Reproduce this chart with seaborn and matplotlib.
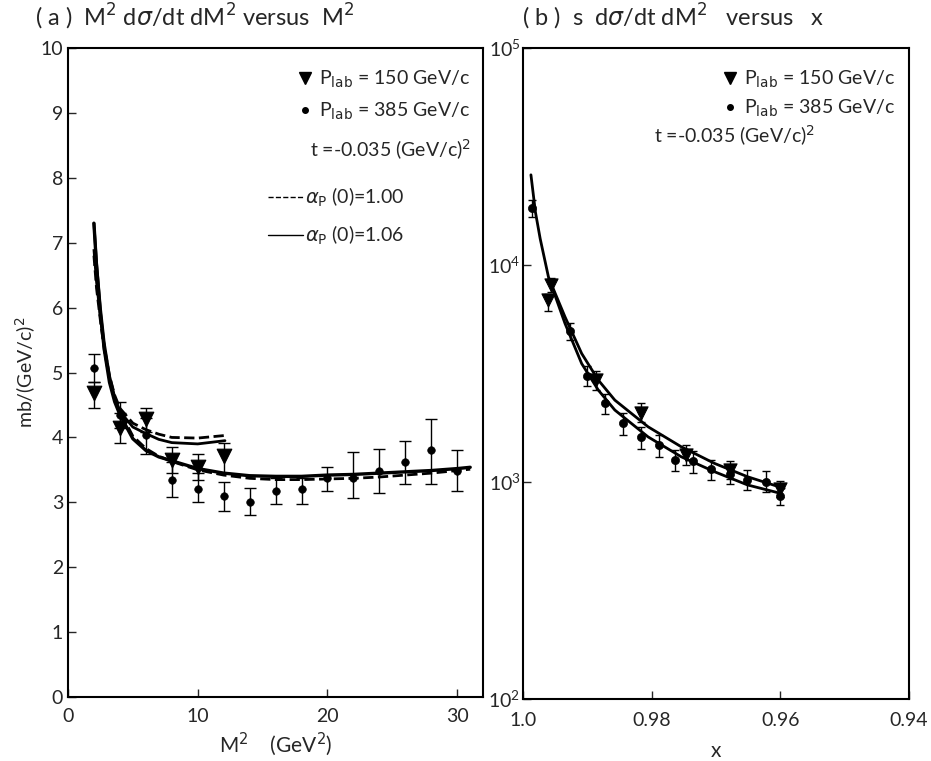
import numpy as np
import pandas as pd
import seaborn as sns
import matplotlib.pyplot as plt
from matplotlib.lines import Line2D

# data
# (a) M^2 dsigma/dt dM^2 vs M^2
m2_150 = [2, 4, 6, 8, 10, 12]
y_150 = [4.68, 4.14, 4.29, 3.65, 3.54, 3.72]
lo_150 = [4.46, 3.92, 4.08, 3.45, 3.35, 3.45]
hi_150 = [4.85, 4.37, 4.46, 3.85, 3.74, 3.92]

m2_385 = [2, 4, 6, 8, 10, 12, 14, 16, 18, 20, 22, 24, 26, 28, 30]
y_385 = [5.07, 4.35, 4.03, 3.35, 3.20, 3.09, 3.01, 3.18, 3.20, 3.37, 3.37, 3.49, 3.62, 3.81, 3.49]
lo_385 = [4.86, 4.15, 3.75, 3.08, 3.00, 2.86, 2.81, 2.97, 2.97, 3.17, 3.06, 3.15, 3.28, 3.28, 3.18]
hi_385 = [5.28, 4.55, 4.30, 3.62, 3.45, 3.32, 3.22, 3.37, 3.37, 3.55, 3.78, 3.82, 3.94, 4.28, 3.80]

# model curves, alpha_P(0)=1.00 (dashed) and 1.06 (solid)
cm2_150 = [2.0, 2.2, 2.5, 2.8, 3.2, 3.6, 4, 5, 6, 7, 8, 10, 12.1]
c150_100 = [6.90, 6.40, 5.85, 5.40, 4.95, 4.65, 4.45, 4.22, 4.12, 4.05, 4.00, 3.99, 4.03]
c150_106 = [7.30, 6.70, 6.00, 5.45, 4.95, 4.62, 4.40, 4.16, 4.06, 3.97, 3.92, 3.90, 3.95]
cm2_385 = [2.0, 2.2, 2.5, 2.8, 3.2, 3.6, 4, 5, 6, 7, 8, 10, 12, 14, 16, 18, 20, 22, 24, 26, 28, 30, 31]
c385_100 = [6.80, 6.30, 5.80, 5.35, 4.90, 4.60, 4.40, 4.02, 3.83, 3.71, 3.63, 3.50, 3.42, 3.37, 3.35, 3.35,
            3.36, 3.37, 3.39, 3.42, 3.45, 3.49, 3.51]
c385_106 = [7.30, 6.65, 5.90, 5.35, 4.85, 4.55, 4.35, 3.98, 3.80, 3.70, 3.64, 3.52, 3.45, 3.41, 3.40, 3.40,
            3.42, 3.43, 3.45, 3.47, 3.49, 3.52, 3.54]

# (b) s dsigma/dt dM^2 vs x
x_150 = [0.9961, 0.9957, 0.9887, 0.9817, 0.9746, 0.9678, 0.9600]
s_150 = [6900, 8100, 2950, 2080, 1330, 1130, 930]
slo_150 = [6100, 7500, 2650, 1880, 1200, 1030, 850]
shi_150 = [7300, 8700, 3250, 2300, 1470, 1240, 1010]

x_385 = [0.9986, 0.9927, 0.9901, 0.9873, 0.9845, 0.9817, 0.9789, 0.9764, 0.9736, 0.9707, 0.9678,
         0.9651, 0.9622, 0.9600]
s_385 = [18300, 4960, 3080, 2310, 1870, 1600, 1470, 1260, 1250, 1140, 1090, 1020, 1000, 860]
slo_385 = [16600, 4500, 2750, 2050, 1650, 1420, 1300, 1120, 1100, 1020, 980, 920, 900, 780]
shi_385 = [20000, 5400, 3400, 2550, 2080, 1780, 1640, 1400, 1390, 1260, 1200, 1130, 1120, 950]

cx_385 = [0.9988, 0.9981, 0.99736, 0.99608, 0.99349, 0.9909, 0.98832, 0.98574, 0.98057, 0.9754, 0.97023,
          0.96507, 0.95989]
cs_385 = [26000, 17500, 13200, 8810, 5360, 3505, 2647, 2140, 1610, 1303, 1112, 966, 883]
cx_150 = [0.99555, 0.99349, 0.9909, 0.98832, 0.98574, 0.98057, 0.9754, 0.97023, 0.96507, 0.95938]
cs_150 = [8050, 5750, 3900, 2943, 2378, 1792, 1449, 1215, 1054, 931]

sns.set_style("ticks")
plt.rcParams['font.family'] = ['Lato', 'DejaVu Sans']
plt.rcParams['mathtext.fontset'] = 'dejavusans'
plt.rcParams['xtick.direction'] = 'in'
plt.rcParams['ytick.direction'] = 'in'

fig = plt.figure(figsize=(9.31, 7.61), dpi=100)
ax1 = fig.add_axes([0.073, 0.084, 0.446, 0.853])
ax2 = fig.add_axes([0.562, 0.082, 0.414, 0.855])

k = dict(color="black")

# ---- panel (a)
sns.lineplot(x=cm2_150, y=c150_100, ax=ax1, sort=False, estimator=None, lw=2, linestyle="--", **k)
sns.lineplot(x=cm2_150, y=c150_106, ax=ax1, sort=False, estimator=None, lw=2, **k)
sns.lineplot(x=cm2_385, y=c385_100, ax=ax1, sort=False, estimator=None, lw=2, linestyle="--", **k)
sns.lineplot(x=cm2_385, y=c385_106, ax=ax1, sort=False, estimator=None, lw=2.4, **k)

ax1.errorbar(m2_150, y_150, yerr=[np.subtract(y_150, lo_150), np.subtract(hi_150, y_150)],
             fmt="none", ecolor="black", elinewidth=1, capsize=4)
ax1.errorbar(m2_385, y_385, yerr=[np.subtract(y_385, lo_385), np.subtract(hi_385, y_385)],
             fmt="none", ecolor="black", elinewidth=1, capsize=4)
sns.scatterplot(x=m2_150, y=y_150, ax=ax1, marker="v", s=110, color="black", edgecolor="black", zorder=5)
sns.scatterplot(x=m2_385, y=y_385, ax=ax1, marker="o", s=30, color="black", edgecolor="black", zorder=5)

ax1.set_xlim(0, 32)
ax1.set_ylim(0, 10)
ax1.set_xticks([0, 10, 20, 30])
ax1.set_yticks(range(0, 11))
ax1.tick_params(axis="both", labelsize=14, length=6, width=1)
ax1.tick_params(axis="x", pad=8)
ax1.set_xlabel(r"M$^2$    (GeV$^2$)", fontsize=15, labelpad=4)
ax1.set_ylabel(r"mb/(GeV/c)$^2$", fontsize=14, labelpad=2)

h_pts = [Line2D([], [], marker="v", ls="none", color="black", ms=8),
         Line2D([], [], marker="o", ls="none", color="black", ms=4)]
lab_pts = [r"P$_{\rm lab}$ = 150 GeV/c", r"P$_{\rm lab}$ = 385 GeV/c"]
leg = ax1.legend(h_pts, lab_pts, loc="upper right", bbox_to_anchor=(1.01, 0.995), frameon=False,
                 fontsize=14, handletextpad=0.2, labelspacing=0.55, handlelength=1.0)
ax1.add_artist(leg)
ax1.text(0.97, 0.843, r"t =-0.035 (GeV/c)$^2$", transform=ax1.transAxes, ha="right", va="center",
         fontsize=14)
h_lin = [Line2D([], [], ls="--", color="black", lw=1), Line2D([], [], ls="-", color="black", lw=1)]
ax1.legend(h_lin, [r"$\alpha_{\rm P}$ (0)=1.00", r"$\alpha_{\rm P}$ (0)=1.06"], loc="upper left",
           bbox_to_anchor=(0.44, 0.815), frameon=False, fontsize=14, handletextpad=0.1,
           labelspacing=0.75, handlelength=1.8)

# ---- panel (b)
sns.lineplot(x=cx_385, y=cs_385, ax=ax2, sort=False, estimator=None, lw=2, **k)
sns.lineplot(x=cx_150, y=cs_150, ax=ax2, sort=False, estimator=None, lw=2, **k)
ax2.errorbar(x_150, s_150, yerr=[np.subtract(s_150, slo_150), np.subtract(shi_150, s_150)],
             fmt="none", ecolor="black", elinewidth=1, capsize=3)
ax2.errorbar(x_385, s_385, yerr=[np.subtract(s_385, slo_385), np.subtract(shi_385, s_385)],
             fmt="none", ecolor="black", elinewidth=1, capsize=3)
sns.scatterplot(x=x_150, y=s_150, ax=ax2, marker="v", s=90, color="black", edgecolor="black", zorder=5)
sns.scatterplot(x=x_385, y=s_385, ax=ax2, marker="o", s=35, color="black", edgecolor="black", zorder=5)

ax2.set_yscale("log")
ax2.set_xlim(1.0, 0.94)
ax2.set_ylim(1e2, 1e5)
ax2.set_xticks([1.0, 0.98, 0.96, 0.94])
ax2.set_xticklabels(["1.0", "0.98", "0.96", "0.94"])
ax2.minorticks_off()
ax2.tick_params(axis="both", labelsize=14, length=6, width=1)
ax2.tick_params(axis="x", pad=10)
ax2.tick_params(axis="y", pad=2)
ax2.set_xlabel("x", fontsize=15, labelpad=8)

leg2 = ax2.legend(h_pts, lab_pts, loc="upper right", bbox_to_anchor=(1.01, 0.995), frameon=False,
                  fontsize=14, handletextpad=0.2, labelspacing=0.4, handlelength=1.0)
ax2.text(0.34, 0.865, r"t =-0.035 (GeV/c)$^2$", transform=ax2.transAxes, ha="left", va="center",
         fontsize=14)

for ax in (ax1, ax2):
    for sp in ax.spines.values():
        sp.set_linewidth(1.5)
        sp.set_color("black")

fig.text(0.038, 0.978, r"( a )  M$^2$ d$\sigma$/dt dM$^2$ versus  M$^2$", fontsize=17, va="center")
fig.text(0.561, 0.978, r"( b )  s  d$\sigma$/dt dM$^2$   versus   x", fontsize=17, va="center")

fig.savefig("out.png", dpi=100)
